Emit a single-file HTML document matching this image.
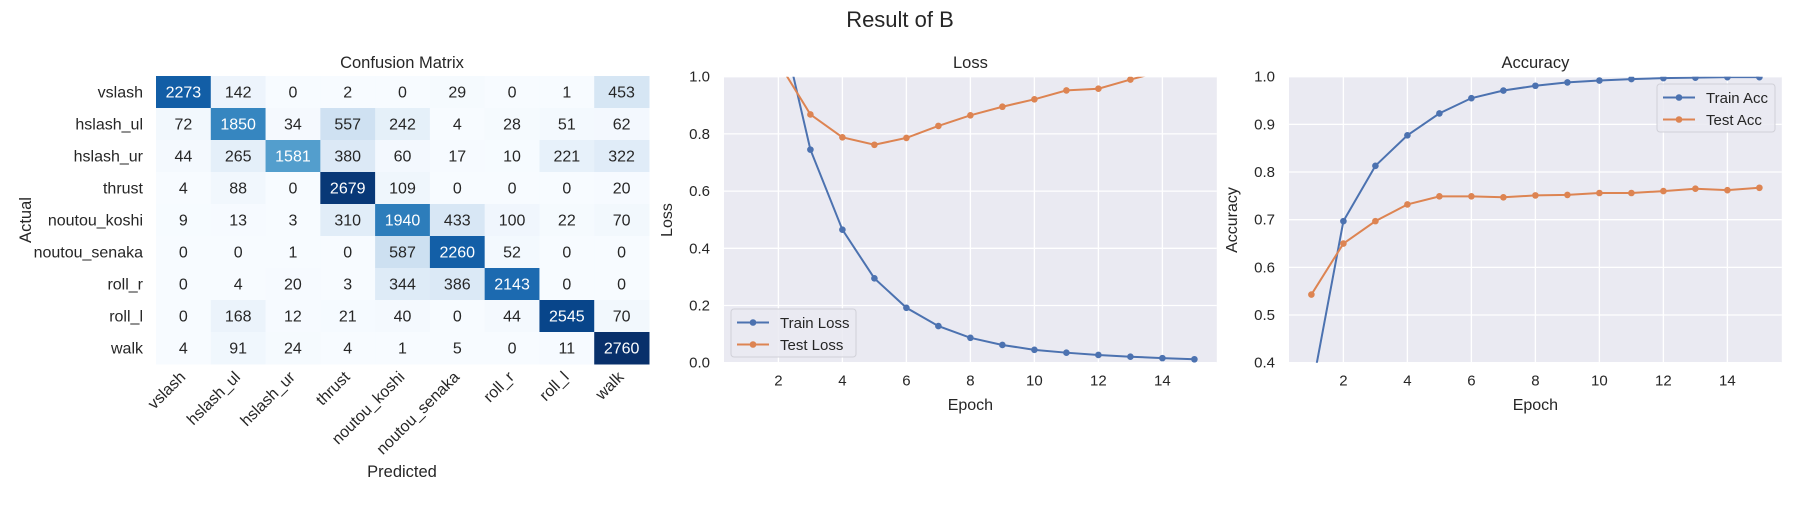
<!DOCTYPE html>
<html><head><meta charset="utf-8"><style>
body{margin:0;background:#fff}
svg text{font-family:"Liberation Sans",Arial,sans-serif;fill:#262626}
</style></head><body>
<svg id="fig" width="1800" height="500" viewBox="0 0 1800 500" xmlns="http://www.w3.org/2000/svg">
<text x="900" y="27" font-size="22" text-anchor="middle">Result of B</text>
<g id="cm"></g>
<g id="loss"></g>
<g id="acc"></g>
</svg>
<script>
const classes = ["vslash","hslash_ul","hslash_ur","thrust","noutou_koshi","noutou_senaka","roll_r","roll_l","walk"];
const cmRow0 = [2273,142,0,2,0,29,0,1,453];
const cmRow1 = [72,1850,34,557,242,4,28,51,62];
const cmRow2 = [44,265,1581,380,60,17,10,221,322];
const cmRow3 = [4,88,0,2679,109,0,0,0,20];
const cmRow4 = [9,13,3,310,1940,433,100,22,70];
const cmRow5 = [0,0,1,0,587,2260,52,0,0];
const cmRow6 = [0,4,20,3,344,386,2143,0,0];
const cmRow7 = [0,168,12,21,40,0,44,2545,70];
const cmRow8 = [4,91,24,4,1,5,0,11,2760];
const epochs = [1,2,3,4,5,6,7,8,9,10,11,12,13,14,15];
const trainLoss = [2.0,1.227,0.745,0.465,0.295,0.192,0.128,0.087,0.062,0.045,0.035,0.027,0.021,0.016,0.012];
const testLoss = [1.3,1.05,0.868,0.788,0.762,0.786,0.828,0.865,0.895,0.921,0.952,0.958,0.99,1.02,1.05];
const trainAcc = [0.339,0.697,0.813,0.877,0.923,0.955,0.971,0.981,0.988,0.992,0.995,0.997,0.998,0.999,0.999];
const testAcc = [0.543,0.650,0.697,0.732,0.749,0.749,0.747,0.751,0.752,0.756,0.756,0.760,0.765,0.762,0.767];
const xTicks = [2,4,6,8,10,12,14];
const lossTicks = [0.0,0.2,0.4,0.6,0.8,1.0];
const accTicks = [0.4,0.5,0.6,0.7,0.8,0.9,1.0];

const NS="http://www.w3.org/2000/svg";
function mk(parent,tag,attrs,text){const e=document.createElementNS(NS,tag);for(const k in attrs)e.setAttribute(k,attrs[k]);if(text!==undefined)e.textContent=text;parent.appendChild(e);return e;}
const stops=["#f7fbff","#deebf7","#c6dbef","#9ecae1","#6baed6","#4292c6","#2171b5","#08519c","#08306b"];
function hx(c){return [1,3,5].map(i=>parseInt(c.substr(i,2),16));}
function blues(t){t=Math.max(0,Math.min(1,t));const p=t*8,i=Math.min(7,Math.floor(p)),f=p-i;const a=hx(stops[i]),b=hx(stops[i+1]);return "rgb("+a.map((v,k)=>Math.round(v+(b[k]-v)*f)).join(",")+")";}

// Confusion matrix
const cm=document.getElementById('cm');
const rows=[cmRow0,cmRow1,cmRow2,cmRow3,cmRow4,cmRow5,cmRow6,cmRow7,cmRow8];
const cx0=156,cy0=76,cw=493/9,ch=288/9;
let vmax=0;rows.forEach(r=>r.forEach(v=>{if(v>vmax)vmax=v;}));
rows.forEach((r,i)=>{r.forEach((v,j)=>{
  const rc=mk(cm,'rect',{x:cx0+j*cw,y:cy0+i*ch,width:cw+0.5,height:ch+0.5,fill:blues(v/vmax)});
  
  
  const t=mk(cm,'text',{x:cx0+(j+0.5)*cw,y:cy0+(i+0.5)*ch+5.5,'font-size':16,'text-anchor':'middle',style:'fill:'+(v/vmax>0.5?'#fff':'#262626')},v);
  
  
});});
classes.forEach((c,i)=>{
  const t=mk(cm,'text',{x:143,y:cy0+(i+0.5)*ch+5.5,'font-size':16,'text-anchor':'end'},c);
  
  
  const x=cx0+(i+0.5)*cw+3,y=cy0+288+14;
  const t2=mk(cm,'text',{x:x,y:y,'font-size':16,'text-anchor':'end',transform:`rotate(-45 ${x} ${y})`},c);
  
  
});
let tt=mk(cm,'text',{x:cx0+246,y:68,'font-size':16.5,'text-anchor':'middle'},'Confusion Matrix');

tt=mk(cm,'text',{x:cx0+246,y:477,'font-size':16.5,'text-anchor':'middle'},'Predicted');

tt=mk(cm,'text',{x:31,y:220,'font-size':16.5,'text-anchor':'middle',transform:'rotate(-90 31 220)'},'Actual');


function lineChart(g,left,title,ylabel,yTicks,ymin,ymax,s1,s2,n1,n2,legend){
  const top=76.7,bottom=362.7,w=492.8;
  const X=e=>left+(e-0.3)/15.4*w;
  const Y=v=>bottom-(v-ymin)/(ymax-ymin)*(bottom-top);
  const bg=mk(g,'rect',{x:left,y:top,width:w,height:bottom-top,fill:'#eaeaf2'});
  
  xTicks.forEach(t=>{
    const l=mk(g,'line',{x1:X(t),x2:X(t),y1:top,y2:bottom,stroke:'#fff','stroke-width':1.3});
    
    const tx=mk(g,'text',{x:X(t),y:bottom+23,'font-size':15,'text-anchor':'middle'},t);
    
  });
  yTicks.forEach(t=>{
    const l=mk(g,'line',{x1:left,x2:left+w,y1:Y(t),y2:Y(t),stroke:'#fff','stroke-width':1.3});
    
    const tx=mk(g,'text',{x:left-14,y:Y(t)+5,'font-size':15,'text-anchor':'end'},t.toFixed(1));
    
  });
  const cid='clip'+left;
  const cp=mk(g,'clipPath',{id:cid});mk(cp,'rect',{x:left,y:top,width:w,height:bottom-top});
  [[s1,'#4c72b0',n1],[s2,'#dd8452',n2]].forEach(([s,col,nm])=>{
    const gg=mk(g,'g',{'clip-path':`url(#${cid})`});
    const pl=mk(gg,'polyline',{points:s.map((v,i)=>X(epochs[i])+','+Y(v)).join(' '),fill:'none',stroke:col,'stroke-width':2});
    
    s.forEach((v,i)=>{const c=mk(gg,'circle',{cx:X(epochs[i]),cy:Y(v),r:3.3,fill:col});
      });
  });
  let t=mk(g,'text',{x:left+w/2,y:68,'font-size':16.5,'text-anchor':'middle'},title);
  
  t=mk(g,'text',{x:left+w/2,y:410,'font-size':16,'text-anchor':'middle'},'Epoch');
  
  const yl=left-52;
  t=mk(g,'text',{x:yl,y:220,'font-size':16,'text-anchor':'middle',transform:`rotate(-90 ${yl} 220)`},ylabel);
  
  const [lx,ly,lw,lh]=legend;
  const lg=mk(g,'g',{});
  
  mk(lg,'rect',{x:lx,y:ly,width:lw,height:lh,rx:3,fill:'#eaeaf2','fill-opacity':0.85,stroke:'#d0d0d8'});
  [[n1,'#4c72b0'],[n2,'#dd8452']].forEach(([nm,col],k)=>{
    const yy=ly+13.5+k*22;
    mk(lg,'line',{x1:lx+6,x2:lx+38,y1:yy,y2:yy,stroke:col,'stroke-width':2});
    mk(lg,'circle',{cx:lx+22,cy:yy,r:3.3,fill:col});
    const e=mk(lg,'text',{x:lx+49,y:yy+5.5,'font-size':15},nm);
    
  });
}
lineChart(document.getElementById('loss'),724,'Loss','Loss',lossTicks,0,1,trainLoss,testLoss,'Train Loss','Test Loss',[731,309,125,48]);
lineChart(document.getElementById('acc'),1289,'Accuracy','Accuracy',accTicks,0.4,1,trainAcc,testAcc,'Train Acc','Test Acc',[1657,84,118,48]);
</script>
</body></html>
